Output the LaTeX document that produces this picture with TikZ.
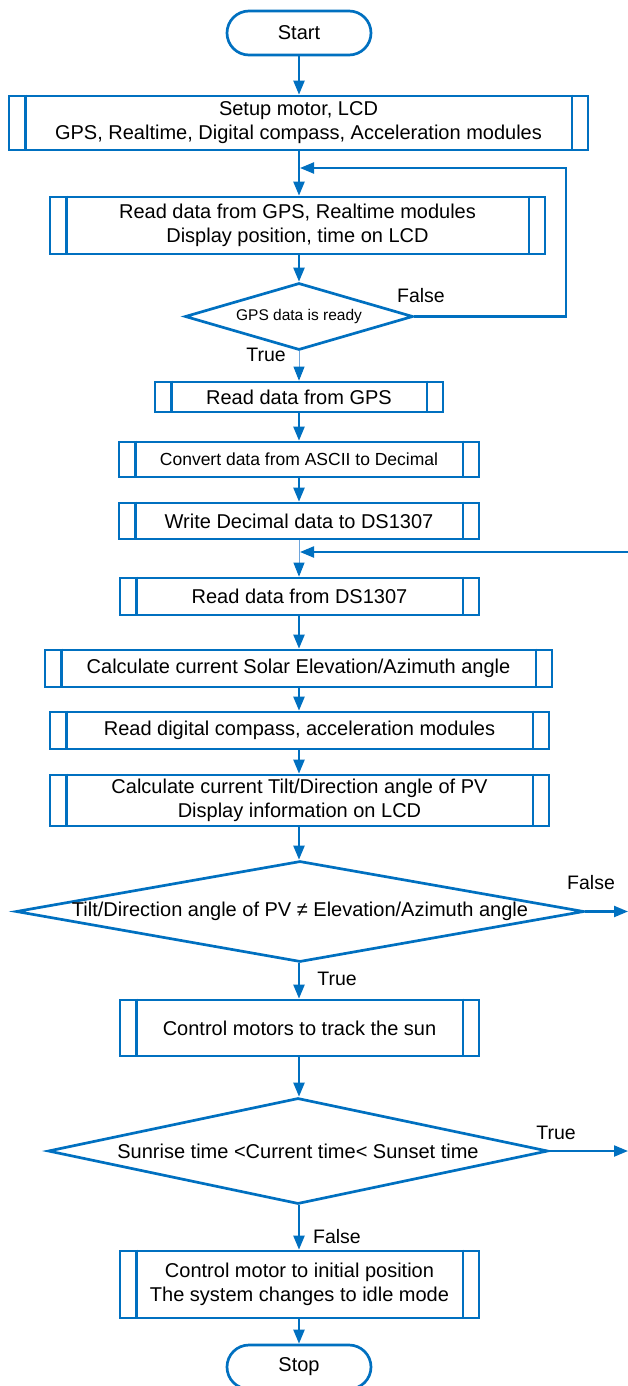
\documentclass[tikz,border=0pt]{standalone}
\usepackage{fontspec}
\setmainfont{Liberation Sans}
\usetikzlibrary{shapes.geometric,arrows.meta}
\definecolor{fcblue}{RGB}{0,112,192}
\definecolor{fcthin}{RGB}{110,165,220}
\tikzset{
  box/.style={draw=fcblue, line width=2.7pt, rectangle, inner sep=0pt, align=center,
    font=\fontsize{20}{24}\selectfont, fill=white},
  term/.style={box, rounded corners=22pt, minimum width=144pt, minimum height=44pt},
  procline/.style={draw=fcblue, line width=2.7pt},
  dec/.style={draw=fcblue, line width=2.7pt, diamond, inner sep=0pt, fill=white},
  dectext/.style={inner sep=0pt, align=center, font=\fontsize{20}{24}\selectfont},
  conn/.style={draw=fcblue, line width=2.2pt},
  arr/.style={conn, -{Triangle[length=14pt,width=11pt]}},
  thinarr/.style={draw=fcthin, line width=0.9pt, -{Triangle[length=14pt,width=11pt,color=fcblue]}},
  lbl/.style={inner sep=0pt, font=\fontsize{19.5}{24}\selectfont}
}
\newcommand{\pbox}[7][\fontsize{20}{24}\selectfont]{%
  \node[box, font=#1, minimum width=#5, minimum height=#6] (#2) at (#3,#4) {#7};
  \draw[procline] ([xshift=17.5pt]#2.north west) -- ([xshift=17.5pt]#2.south west);
  \draw[procline] ([xshift=-17.5pt]#2.north east) -- ([xshift=-17.5pt]#2.south east);
}
\begin{document}
\begin{tikzpicture}[x=1pt,y=-1pt]
\useasboundingbox (0,0) rectangle (628,1386);
\fill[white] (0,0) rectangle (628,1386);

% nodes
\node[term] (start) at (299,33) {Start};
\pbox{setup}{298.5}{123}{579pt}{54pt}{Setup motor, LCD\\GPS, Realtime, Digital compass, Acceleration modules}
\pbox{readgps}{297.5}{225.5}{495pt}{57pt}{Read data from GPS, Realtime modules\\Display position, time on LCD}
\node[dec, minimum width=228pt, minimum height=67pt,
  label={[dectext, font=\fontsize{15.5}{18}\selectfont]center:GPS data is ready}] (d1) at (299,316.5) {};
\pbox{rgps}{299}{397}{288pt}{30pt}{Read data from GPS}
\pbox[\fontsize{17.5}{21}\selectfont]{conv}{299}{459.5}{360pt}{35pt}{Convert data from ASCII to Decimal}
\pbox{write}{299}{521}{360pt}{36pt}{Write Decimal data to DS1307}
\pbox{rds}{299.5}{596.5}{359pt}{37pt}{Read data from DS1307}
\pbox{calc}{298.5}{668.5}{507pt}{37pt}{Calculate current Solar Elevation/Azimuth angle}
\pbox{rdc}{299.5}{730.5}{499pt}{37pt}{Read digital compass, acceleration modules}
\pbox{tilt}{299.5}{800.5}{499pt}{51pt}{Calculate current Tilt/Direction angle of PV\\Display information on LCD}
\node[dec, minimum width=568pt, minimum height=101pt,
  label={[dectext]center:Tilt/Direction angle of PV ≠ Elevation/Azimuth angle}] (d2) at (300,911.5) {};
\pbox{ctrl}{299.5}{1028}{359pt}{56pt}{Control motors to track the sun}
\node[dec, minimum width=500pt, minimum height=106pt,
  label={[dectext]center:Sunrise time <Current time< Sunset time}] (d3) at (298,1151) {};
\pbox{ctrl2}{299.5}{1284.5}{359pt}{67pt}{Control motor to initial position\\The system changes to idle mode}
\node[term] (stop) at (299,1367) {Stop};

% labels
\node[lbl] (f1) at (421,296) {False};
\node[lbl] (t1) at (266,355) {True};
\node[lbl] (f2) at (591,883) {False};
\node[lbl] (t2) at (337,979) {True};
\node[lbl] (t3) at (556,1133) {True};
\node[lbl] (f3) at (337,1237) {False};

% helper coordinates
\coordinate (l1) at (566,316.5);
\coordinate (l2) at (566,168);
\coordinate (j1) at (300,168);
\coordinate (r2) at (628,552);
\coordinate (j2) at (300,552);
\coordinate (o2) at (628,911.5);
\coordinate (o3) at (628,1151);

% connectors
\draw[arr] (start.south) -- (start.south |- setup.north);
\draw[arr] (start.south |- setup.south) -- (start.south |- readgps.north);
\draw[conn, -{Triangle[length=14pt,width=11pt]}] (d1.east) -- (l1) -- (l2) -- (j1);
\draw[arr] (start.south |- readgps.south) -- (d1.north);
\draw[thinarr] (d1.south) -- (d1.south |- rgps.north);
\draw[arr] (d1.south |- rgps.south) -- (d1.south |- conv.north);
\draw[arr] (d1.south |- conv.south) -- (d1.south |- write.north);
\draw[thinarr] (d1.south |- write.south) -- (d1.south |- rds.north);
\draw[arr] (r2) -- (j2);
\draw[arr] (d1.south |- rds.south) -- (d1.south |- calc.north);
\draw[arr] (d1.south |- calc.south) -- (d1.south |- rdc.north);
\draw[arr] (d1.south |- rdc.south) -- (d1.south |- tilt.north);
\draw[arr] (d1.south |- tilt.south) -- (d1.south |- d2.north);
\draw[arr] (d2.east) -- (o2);
\draw[arr] (d1.south |- d2.south) -- (d1.south |- ctrl.north);
\draw[arr] (d1.south |- ctrl.south) -- (d1.south |- d3.north);
\draw[arr] (d3.east) -- (o3);
\draw[arr] (d1.south |- d3.south) -- (d1.south |- ctrl2.north);
\draw[arr] (d1.south |- ctrl2.south) -- (d1.south |- stop.north);
\end{tikzpicture}
\end{document}
